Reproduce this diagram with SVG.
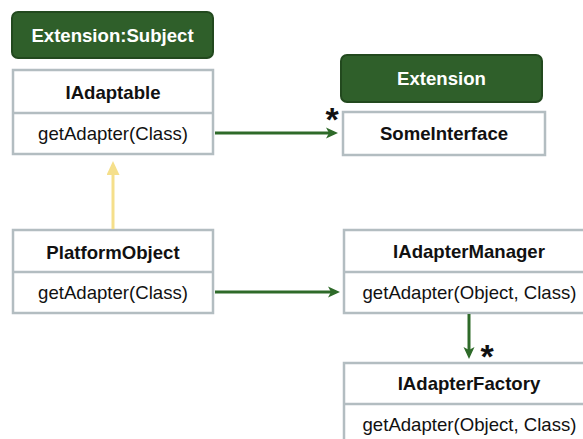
<svg xmlns="http://www.w3.org/2000/svg" width="583" height="439" viewBox="0 0 583 439">
  <style>
    .box { fill: #ffffff; stroke: #b3bdc1; stroke-width: 2.5; }
    .div { stroke: #b3bdc1; stroke-width: 2.5; }
    .tag { fill: #2f5f2a; stroke: #22491e; stroke-width: 2; }
    .t { font-family: "Liberation Sans", Arial, Helvetica, sans-serif; font-size: 18.6px; fill: #111111; text-anchor: middle; }
    .b { font-weight: bold; }
    .w { fill: #ffffff; }
    .star { font-family: "Liberation Sans", Arial, sans-serif; font-size: 34px; font-weight: bold; fill: #111111; text-anchor: middle; }
    .assoc { stroke: #2e6a29; stroke-width: 3; fill: none; }
    .gen { stroke: #f5df8b; stroke-width: 3; fill: none; }
  </style>
  <defs>
    <marker id="arrowGreen" markerUnits="userSpaceOnUse" markerWidth="14" markerHeight="12" refX="8" refY="6" orient="auto">
      <path d="M0,0.5 L12,6 L0,11.5 L3,6 z" fill="#2e6a29"/>
    </marker>
    <marker id="arrowYellow" markerUnits="userSpaceOnUse" markerWidth="15" markerHeight="14" refX="10" refY="6.5" orient="auto">
      <path d="M0,0 L14,6.5 L0,13 z" fill="#f5df8b"/>
    </marker>
  </defs>

  <!-- stereotype tags -->
  <g id="tag-extension-subject">
    <rect class="tag" x="12" y="12" width="201" height="46" rx="6"/>
    <text class="t b w" x="112.5" y="41.5">Extension:Subject</text>
  </g>
  <g id="tag-extension">
    <rect class="tag" x="341" y="55" width="201" height="47" rx="6"/>
    <text class="t b w" x="441.5" y="85">Extension</text>
  </g>

  <!-- classes -->
  <g id="IAdaptable">
    <rect class="box" x="13" y="70" width="200" height="84"/>
    <line class="div" x1="13" y1="113" x2="213" y2="113"/>
    <text class="t b" x="113" y="99">IAdaptable</text>
    <text class="t" x="113" y="140">getAdapter(Class)</text>
  </g>
  <g id="SomeInterface">
    <rect class="box" x="343" y="112" width="202" height="43"/>
    <text class="t b" x="444" y="139.5">SomeInterface</text>
  </g>
  <g id="PlatformObject">
    <rect class="box" x="13" y="230" width="200" height="83"/>
    <line class="div" x1="13" y1="272" x2="213" y2="272"/>
    <text class="t b" x="113" y="258.5">PlatformObject</text>
    <text class="t" x="113" y="298.5">getAdapter(Class)</text>
  </g>
  <g id="IAdapterManager">
    <rect class="box" x="344" y="230" width="250" height="83"/>
    <line class="div" x1="344" y1="272" x2="594" y2="272"/>
    <text class="t b" x="469" y="258">IAdapterManager</text>
    <text class="t" x="469.5" y="299">getAdapter(Object, Class)</text>
  </g>
  <g id="IAdapterFactory">
    <rect class="box" x="344" y="363" width="250" height="100"/>
    <line class="div" x1="344" y1="404" x2="594" y2="404"/>
    <text class="t b" x="469" y="390">IAdapterFactory</text>
    <text class="t" x="469.5" y="431">getAdapter(Object, Class)</text>
  </g>

  <!-- connectors -->
  <g id="connectors">
    <line class="gen" x1="113" y1="229" x2="113" y2="165" marker-end="url(#arrowYellow)"/>
    <line class="assoc" x1="215" y1="133" x2="334" y2="133" marker-end="url(#arrowGreen)"/>
    <line class="assoc" x1="215" y1="292" x2="336" y2="292" marker-end="url(#arrowGreen)"/>
    <line class="assoc" x1="469" y1="314" x2="469" y2="355" marker-end="url(#arrowGreen)"/>
    <text class="star" x="332" y="131">*</text>
    <text class="star" x="487" y="368">*</text>
  </g>
</svg>
